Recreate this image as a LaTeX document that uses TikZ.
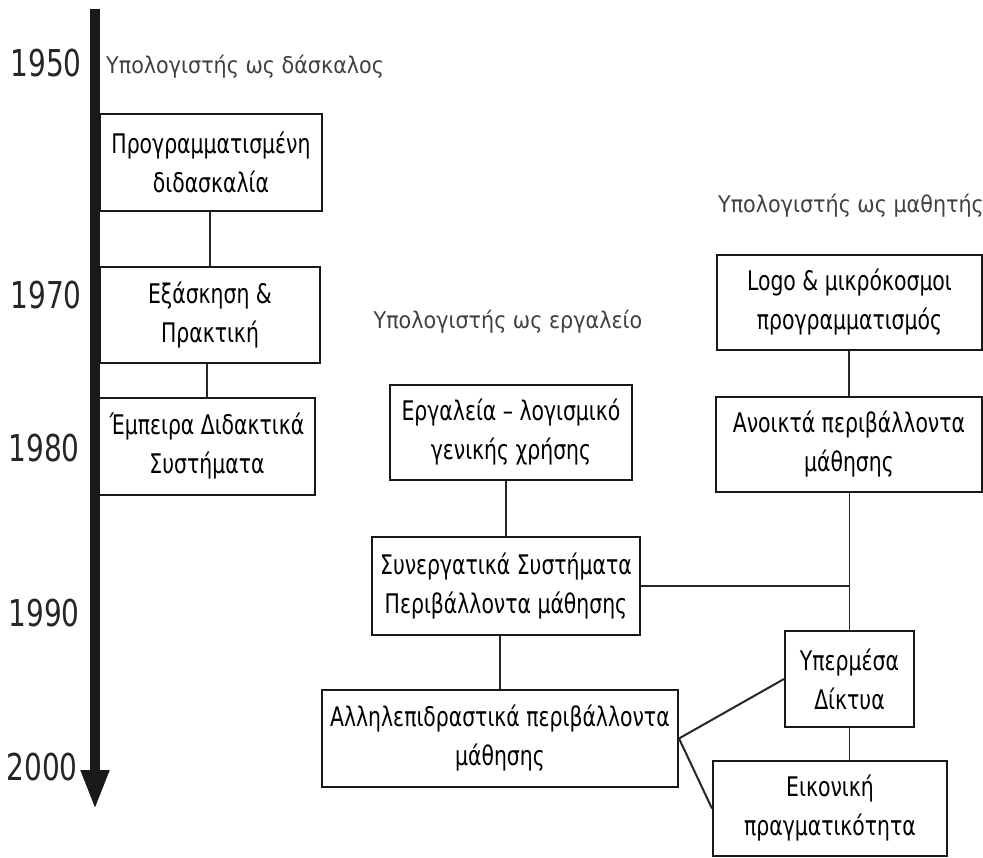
\documentclass[tikz,border=0pt]{standalone}
\usepackage{fontspec}
\setmainfont{DejaVu Sans Condensed}[FakeStretch=0.84]
\newfontfamily\erafont{DejaVu Sans}[FakeStretch=0.9]
\usetikzlibrary{arrows.meta, calc}
\tikzset{
    stage/.style={
        rectangle,
        draw=black!90,
        line width=2pt,
        inner sep=0pt,
        align=center, % for the \\ line breaks
        font=\fontsize{27}{39}\selectfont
    },
    year/.style={
        anchor=east,
        inner sep=0pt,
        text=black!85,
        font=\fontsize{37}{37}\selectfont
    },
    era/.style={
        inner sep=0pt,
        text=black!75,
        font=\erafont\fontsize{23}{23}\selectfont
    },
    link/.style={
        draw=black!85,
        line width=1.3pt
    },
    branch/.style={
        draw=black!85,
        line width=2pt
    }
}

\begin{document}
\begin{tikzpicture}[x=1pt, y=-1pt]
\useasboundingbox (0,0) rectangle (983,858);

% time axis
\coordinate (axtop) at (95,9);
\coordinate (axend) at (95,810);
\draw[line width=10pt, black!90, -{Triangle[width=26pt, length=40pt]}] (axtop) -- (axend);

\node[year] (y1950) at (82,63) {1950};
\node[year] (y1970) at (82,295) {1970};
\node[year] (y1980) at (80,448) {1980};
\node[year] (y1990) at (80,613) {1990};
\node[year] (y2000) at (78,767) {2000};

% three roles of the computer
\node[era, anchor=west] (teacher) at (106,67) {Υπολογιστής ως δάσκαλος};
\node[era] (tool) at (508,322) {Υπολογιστής ως εργαλείο};
\node[era] (learner) at (851,206) {Υπολογιστής ως μαθητής};

% computer as teacher
\node[stage, minimum width=222pt, minimum height=97pt] (prog) at (211,162.5) {Προγραμματισμένη\\διδασκαλία};
\node[stage, minimum width=220pt, minimum height=96pt] (drill) at (210,315) {Εξάσκηση \&\\Πρακτική};
\node[stage, minimum width=216pt, minimum height=97pt] (expert) at (207,446.5) {Έμπειρα Διδακτικά\\Συστήματα};

% computer as tool
\node[stage, minimum width=242pt, minimum height=95pt] (soft) at (511,432.5) {Εργαλεία – λογισμικό\\γενικής χρήσης};
\node[stage, minimum width=268pt, minimum height=98pt] (collab) at (506,586) {Συνεργατικά Συστήματα\\Περιβάλλοντα μάθησης};
\node[stage, minimum width=356pt, minimum height=97pt] (inter) at (500,738.5) {Αλληλεπιδραστικά περιβάλλοντα\\μάθησης};

% computer as learner
\node[stage, minimum width=265pt, minimum height=95pt] (logo) at (849.5,302.5) {Logo \& μικρόκοσμοι\\προγραμματισμός};
\node[stage, minimum width=266pt, minimum height=95pt] (open) at (849,444.5) {Ανοικτά περιβάλλοντα\\μάθησης};
\node[stage, minimum width=129pt, minimum height=96pt] (hyper) at (849.5,679) {Υπερμέσα\\Δίκτυα};
\node[stage, minimum width=234pt, minimum height=95pt] (vr) at (830,808.5) {Εικονική\\πραγματικότητα};

% connectors
\draw[link] (drill.north) -- (drill.north |- prog.south);
\draw[link] (expert.north) -- (expert.north |- drill.south);
\draw[link] (collab.north) -- (collab.north |- soft.south);
\draw[link] (inter.north) -- (inter.north |- collab.south);
\draw[link] (open.north) -- (open.north |- logo.south);
\draw[link] (hyper.north) -- (hyper.north |- open.south);
\draw[link] (collab.east) -- (collab.east -| hyper.north);
\draw[link] (hyper.south) -- (hyper.south |- vr.north);
\draw[branch] (inter.east) -- (hyper.west);
\draw[branch] (inter.east) -- (vr.west);

\end{tikzpicture}
\end{document}
